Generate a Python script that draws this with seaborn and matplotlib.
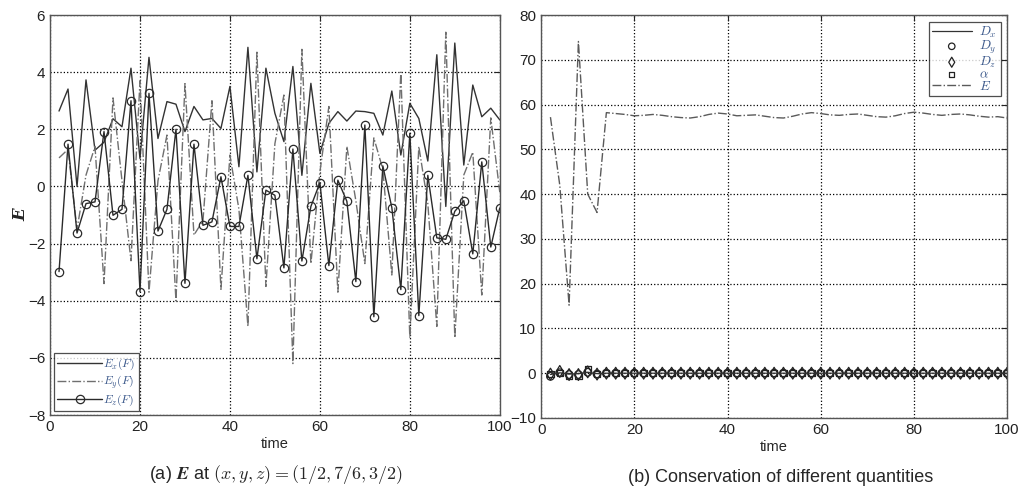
import numpy as np
import pandas as pd
import matplotlib
matplotlib.use("Agg")
import matplotlib.pyplot as plt
import seaborn as sns

# ---------------------------------------------------------------
# Data (one sample every 2 time units)
# ---------------------------------------------------------------
time = list(range(2, 101, 2))

ex = [2.64, 3.41, 0.0, 3.73, 1.27, 1.55, 2.37, 2.09, 4.14, 0.98,
      4.52, 1.68, 2.97, 2.88, 1.92, 2.80, 2.33, 2.38, 2.03, 3.50,
      0.69, 4.87, 0.51, 4.14, 2.56, 1.57, 4.20, 0.39, 3.61, 1.16,
      2.21, 2.62, 2.29, 2.64, 2.62, 2.56, 1.80, 3.34, 1.10, 2.91,
      2.38, 0.89, 4.61, -0.70, 5.02, 0.75, 3.55, 2.44, 2.74, 2.33]

ey = [1.0, 1.3, -1.5, 0.4, 1.4, -3.4, 3.1, 0.2, -2.6, 3.7,
      -3.7, 0.2, 1.8, -4.0, 3.6, -1.7, -1.2, 3.0, -3.6, 1.1,
      -0.8, -4.9, 4.7, -3.5, 1.5, 3.2, -6.2, 4.8, -2.7, 0.5,
      2.8, -3.7, 1.4, -0.5, -2.7, 1.7, 0.6, -3.1, 4.0, -5.3,
      1.4, -0.6, -4.9, 5.4, -5.3, 0.4, 1.2, -3.8, 2.4, -0.2]

ez = [-2.98, 1.48, -1.63, -0.60, -0.54, 1.92, -1.01, -0.80, 3.00, -3.68,
      3.26, -1.56, -0.80, 2.00, -3.39, 1.48, -1.36, -1.24, 0.34, -1.40,
      -1.40, 0.39, -2.53, -0.13, -0.31, -2.85, 1.31, -2.61, -0.70, 0.13,
      -2.77, 0.22, -0.52, -3.33, 2.15, -4.56, 0.72, -0.74, -3.61, 1.86,
      -4.52, 0.39, -1.80, -1.85, -0.87, -0.50, -2.36, 0.86, -2.12, -0.75]

energy = [57.2, 42.0, 15.2, 74.1, 40.0, 35.9, 58.2, 58.0, 57.8, 57.5,
          57.6, 57.8, 57.6, 57.3, 57.1, 57.0, 57.3, 57.8, 58.1, 57.9,
          57.5, 57.6, 57.7, 57.4, 57.1, 57.0, 57.4, 57.9, 58.2, 58.0,
          57.7, 57.6, 57.8, 57.9, 57.6, 57.3, 57.2, 57.5, 58.0, 58.3,
          58.1, 57.8, 57.6, 57.8, 57.9, 57.7, 57.4, 57.2, 57.3, 57.0]

dx = [-0.3, 0.1, -0.2, -0.1, 0.2, -0.1] + [0.0] * 44
dy = [-0.7, 0.1, -0.3, -0.3, 0.2, -0.2] + [0.0] * 44
dz = [-0.2, 0.4, -0.3, -0.3, 0.3, -0.2] + [0.0] * 44
alpha = [-0.2, 0.1, -0.7, -0.7, 1.0, -0.2] + [0.0] * 44

left_yticks = list(range(-8, 7, 2))
right_yticks = list(range(-10, 81, 10))
xticks = list(range(0, 101, 20))

df_a = pd.DataFrame({"time": time, "Ex": ex, "Ey": ey, "Ez": ez})
df_b = pd.DataFrame({"time": time, "Dx": dx, "Dy": dy, "Dz": dz,
                     "alpha": alpha, "E": energy})

# ---------------------------------------------------------------
# Style
# ---------------------------------------------------------------
sns.set_style("white")
plt.rcParams["font.family"] = ["Liberation Sans Narrow", "Liberation Sans", "DejaVu Sans"]
plt.rcParams["mathtext.fontset"] = "cm"
plt.rcParams["xtick.direction"] = "in"
plt.rcParams["ytick.direction"] = "in"

LEG_COL = "#3d5a8c"
GRID_KW = dict(color="black", linestyle=":", linewidth=0.9)

fig = plt.figure(figsize=(10.21, 4.95), dpi=100)
ax_a = fig.add_axes([0.049, 0.1616, 0.4405, 0.808])
ax_b = fig.add_axes([0.530, 0.1556, 0.4564, 0.814])


def style_axes(ax, yticks):
    ax.set_xlim(0, 100)
    ax.set_ylim(yticks[0], yticks[-1])
    ax.set_xticks(xticks)
    ax.set_yticks(yticks)
    ax.grid(True, **GRID_KW)
    ax.tick_params(labelsize=11, length=4, width=0.8, colors="#222222",
                   top=True, right=True)
    for sp in ax.spines.values():
        sp.set_color("#555555")
        sp.set_linewidth(1.0)
    ax.set_xlabel("time", fontsize=10.5, labelpad=2)


# ---- (a) E at a point ----
sns.lineplot(data=df_a, x="time", y="Ex", ax=ax_a, color="#333333", lw=1.0,
             label=r"$E_x(F)$")
sns.lineplot(data=df_a, x="time", y="Ey", ax=ax_a, color="#6f6f6f", lw=1.0,
             linestyle="-.", label=r"$E_y(F)$")
sns.lineplot(data=df_a, x="time", y="Ez", ax=ax_a, color="#2a2a2a", lw=1.0,
             marker="o", markersize=6, markerfacecolor="none",
             markeredgecolor="#2a2a2a", markeredgewidth=0.9, label=r"$E_z(F)$")
style_axes(ax_a, left_yticks)
ax_a.set_ylabel("E", fontsize=12, family="DejaVu Serif", fontstyle="italic",
                fontweight="bold")
ax_a.yaxis.set_label_coords(-0.045, 0.5)
leg_a = ax_a.legend(loc="lower left", fontsize=8.5, handlelength=3.8,
                    frameon=True, fancybox=False, borderpad=0.3,
                    labelspacing=0.15, handletextpad=0.1,
                    borderaxespad=0.3)
leg_a.get_frame().set_edgecolor("#222222")
leg_a.get_frame().set_linewidth(0.9)
for t in leg_a.get_texts():
    t.set_color(LEG_COL)

# ---- (b) conserved quantities ----
sns.lineplot(data=df_b, x="time", y="Dx", ax=ax_b, color="#333333", lw=0.9,
             label=r"$D_x$")
sns.scatterplot(data=df_b, x="time", y="Dy", ax=ax_b, marker="o", s=30,
                facecolor="none", edgecolor="#222222", linewidth=0.9,
                label=r"$D_y$")
sns.scatterplot(data=df_b, x="time", y="Dz", ax=ax_b, marker="d", s=36,
                facecolor="none", edgecolor="#222222", linewidth=0.9,
                label=r"$D_z$")
sns.scatterplot(data=df_b, x="time", y="alpha", ax=ax_b, marker="s", s=20,
                facecolor="none", edgecolor="#222222", linewidth=0.9,
                label=r"$\alpha$")
sns.lineplot(data=df_b, x="time", y="E", ax=ax_b, color="#5a5a5a", lw=1.0,
             linestyle="-.", label=r"$E$")
style_axes(ax_b, right_yticks)
ax_b.set_ylabel("")
leg_b = ax_b.legend(loc="upper right", fontsize=9.5, handlelength=3.0,
                    frameon=True, fancybox=False, borderpad=0.25,
                    labelspacing=-0.1, handletextpad=0.6,
                    borderaxespad=0.5, markerscale=0.85)
leg_b.get_frame().set_edgecolor("#222222")
leg_b.get_frame().set_linewidth(0.9)
for t in leg_b.get_texts():
    t.set_color(LEG_COL)

# ---- captions ----
fig.text(0.27, 0.018, r"(a) $\boldsymbol{E}$ at $(x,y,z) = (1/2,7/6,3/2)$",
         ha="center", va="bottom", fontsize=13)
fig.text(0.765, 0.018, "(b) Conservation of different quantities",
         ha="center", va="bottom", fontsize=13)

fig.savefig("out.png", dpi=100)
